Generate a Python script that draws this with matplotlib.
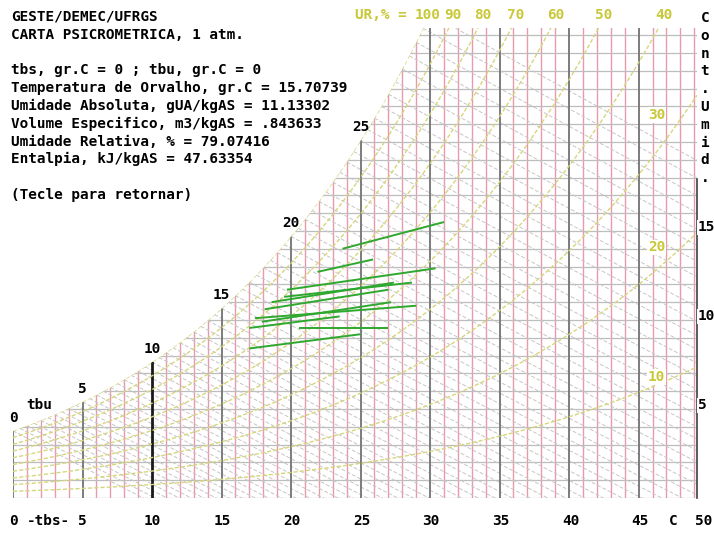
import numpy as np
import matplotlib
matplotlib.use("Agg")
import matplotlib.pyplot as plt

# chart ranges
t_max = 49.2          # deg C at right border
w_top = 26.4          # g/kg at top border
P = 101.325           # kPa

tbs_ticks = [0, 5, 10, 15, 20, 25, 30, 35, 40, 45, 50]
ur_top = [100, 90, 80, 70, 60, 50, 40]
ur_right = [30, 20, 10]
w_labels = [5, 10, 15]
sat_labels = [0, 5, 10, 15, 20, 25]
tbu_lines = np.arange(0, 30.5, 0.5)

# green process lines (tbs start, W start, tbs end, W end)
green_t0 = [23.7, 21.9, 19.7, 19.5, 18.6, 18.1, 17.4, 17.9, 20.6, 17.0, 17.0]
green_w0 = [14.0, 12.7, 11.7, 11.3, 11.0, 10.6, 10.1, 9.9, 9.55, 9.55, 8.4]
green_t1 = [31.0, 25.9, 30.4, 28.7, 27.4, 27.0, 29.0, 27.2, 27.0, 23.5, 25.0]
green_w1 = [15.5, 13.4, 12.9, 12.1, 12.1, 11.7, 10.8, 11.0, 9.55, 10.2, 9.2]

text_lines = [
    "GESTE/DEMEC/UFRGS",
    "CARTA PSICROMETRICA, 1 atm.",
    "",
    "tbs, gr.C = 0 ; tbu, gr.C = 0",
    "Temperatura de Orvalho, gr.C = 15.70739",
    "Umidade Absoluta, gUA/kgAS = 11.13302",
    "Volume Especifico, m3/kgAS = .843633",
    "Umidade Relativa, % = 79.07416",
    "Entalpia, kJ/kgAS = 47.63354",
    "",
    "(Tecle para retornar)",
]


def psat(t):
    return 0.61078 * np.exp(17.27 * t / (t + 237.3))


def wsat(t, rh=1.0):
    pw = rh * psat(t)
    return 1000 * 0.622 * pw / (P - pw)


def t_at_w(w, rh):
    # temperature where RH curve reaches humidity w
    tt = np.linspace(0, 80, 8001)
    return np.interp(w, wsat(tt, rh), tt)


W, H = 714, 535
fig = plt.figure(figsize=(W / 100, H / 100), dpi=100)
x0, x1, y0, y1 = 13, 697, 498, 28
ax = fig.add_axes([x0 / W, 1 - y0 / H, (x1 - x0) / W, (y0 - y1) / H])
ax.set_xlim(0, t_max)
ax.set_ylim(0, w_top)
ax.axis("off")

mono = {"family": "DejaVu Sans Mono", "weight": "bold", "size": 10.4}
yellow = "#c8c83a"

# dry bulb verticals
for t in range(0, 50):
    if t == 10:
        ax.plot([t, t], [0, w_top], color="#1a1a1a", lw=2.0, zorder=2)
    elif t % 5 == 0:
        ax.plot([t, t], [0, w_top], color="#7c7c7c", lw=1.4, zorder=2)
    else:
        ax.plot([t, t], [0, w_top], color="#e89aac", lw=1.0, zorder=1)

# humidity horizontals
for w in range(0, 27):
    ax.plot([0, t_max], [w, w], color="#bdbdbd", lw=0.9, zorder=1)

# wet bulb lines
for tw in tbu_lines:
    tt = np.linspace(tw, t_max, 100)
    ww = ((2501 - 2.326 * tw) * wsat(tw) / 1000 - 1.006 * (tt - tw)) / (2501 + 1.86 * tt - 4.186 * tw) * 1000
    ax.plot(tt, ww, color="#c6c6c6", lw=0.7, ls=(0, (4, 2)), zorder=1)

# relative humidity curves
tf = np.linspace(0, t_max, 400)
for rh in range(10, 101, 10):
    ax.plot(tf, wsat(tf, rh / 100), color="#d6d67c", lw=1.0, ls=(0, (3, 1.5)), zorder=2)

# blank out region above saturation
ax.fill_between(tf, wsat(tf), w_top + 1, color="white", zorder=3, lw=0)

# green lines
for a, b, c, d in zip(green_t0, green_w0, green_t1, green_w1):
    ax.plot([a, c], [b, d], color="#2ea82e", lw=1.4, zorder=4, solid_capstyle="butt")

# right border
ax.plot([t_max, t_max], [0, 17.9], color="#404040", lw=1.2, zorder=4, clip_on=False)

# labels on saturation curve
for t in sat_labels:
    ax.text(t, wsat(t) + 0.35, str(t), ha="center", va="bottom", zorder=5, **mono)
ax.text(1.9, 5.2, "tbu", ha="center", va="center", zorder=5, **mono)

# RH labels at top
for rh in ur_top:
    ax.text(t_at_w(w_top + 0.5, rh / 100), w_top + 0.35, str(rh), ha="center", va="bottom",
            color=yellow, zorder=5, clip_on=False, **mono)
ax.text(t_at_w(w_top + 0.5, 1.0) - 1.5, w_top + 0.35, "UR,% =", ha="right", va="bottom",
        color=yellow, zorder=5, clip_on=False, **mono)
for rh in ur_right:
    ax.text(46.3, wsat(48.5, rh / 100) - 0.3, str(rh), ha="center", va="center",
            color=yellow, zorder=5, bbox=dict(fc="white", ec="none", pad=0.5), **mono)

# humidity labels on the right
for w in w_labels:
    ax.text(t_max + 0.05, w + 0.2, str(w), ha="left", va="center", zorder=5,
            clip_on=False, bbox=dict(fc="white", ec="none", pad=0.3), **mono)
for i, ch in enumerate("Cont.Umid."):
    fig.text(705 / W, 1 - (18 + 17.8 * i) / H, ch, ha="center", va="center", **mono)

# bottom axis labels
for t in tbs_ticks:
    xp = 13 + 13.94 * t if t < 50 else 704
    fig.text(xp / W, 1 - 521 / H, str(t), ha="center", va="center", **mono)
fig.text(48 / W, 1 - 521 / H, "-tbs-", ha="center", va="center", **mono)
fig.text(673 / W, 1 - 521 / H, "C", ha="center", va="center", **mono)

# header text block
for i, line in enumerate(text_lines):
    fig.text(11 / W, 1 - (17 + 17.8 * i) / H, line, ha="left", va="center", **mono)

fig.savefig("out.png", dpi=100)
